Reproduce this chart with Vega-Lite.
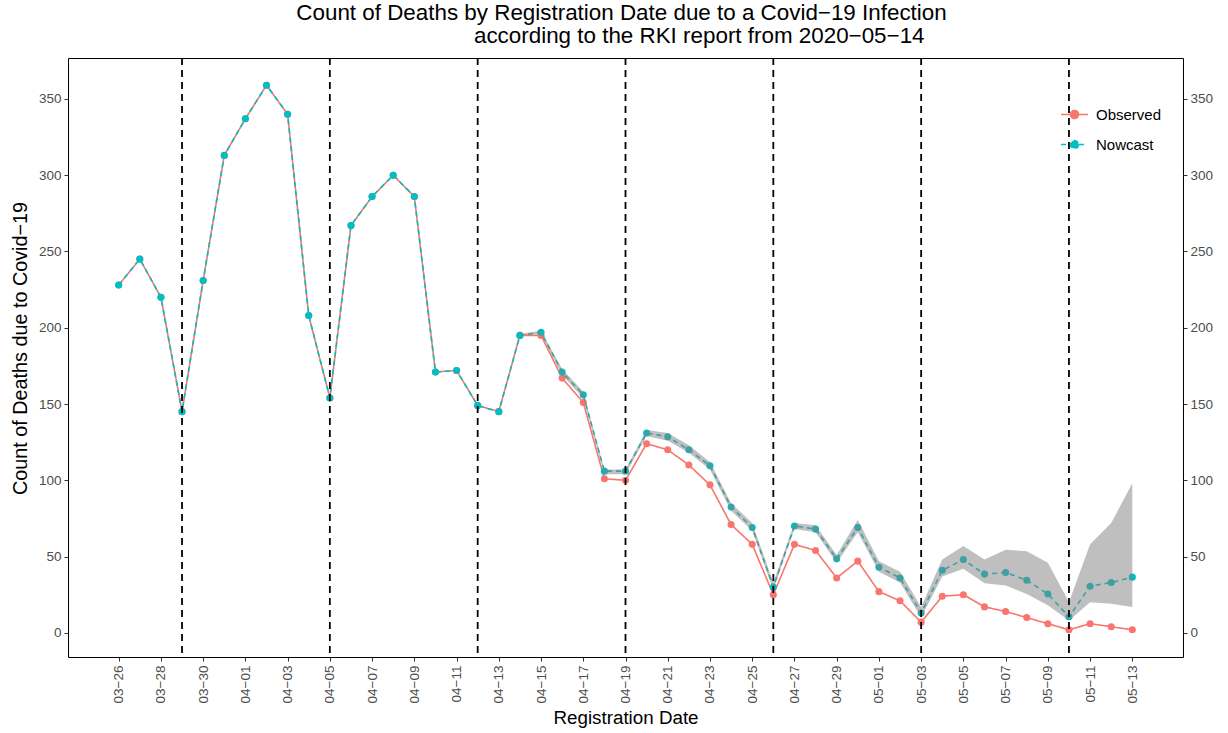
{
  "$schema": "https://vega.github.io/schema/vega-lite/v6.json",
  "width": 1115,
  "height": 599,
  "autosize": {"type": "none"},
  "padding": {"left": 68, "top": 58, "right": 45, "bottom": 76},
  "background": "white",
  "config": {
    "font": "Liberation Sans",
    "view": {"stroke": "#000000", "strokeWidth": 1},
    "axis": {
      "grid": false,
      "domain": false,
      "tickColor": "#333333",
      "tickSize": 4,
      "tickWidth": 1,
      "labelColor": "#4D4D4D",
      "labelFontSize": 13.5,
      "labelFont": "Liberation Sans",
      "titleFont": "Liberation Sans",
      "titleFontSize": 18.8,
      "titleFontWeight": "normal",
      "titleColor": "#000000"
    }
  },
  "title": {
    "text": [
      "Count of Deaths by Registration Date due to a Covid−19 Infection",
      "\u200b\u00a0\u00a0\u00a0\u00a0\u00a0\u00a0\u00a0\u00a0\u00a0\u00a0\u00a0\u00a0\u00a0\u00a0\u00a0\u00a0\u00a0\u00a0\u00a0\u00a0\u00a0\u00a0\u00a0\u00a0\u00a0according to the RKI report from 2020−05−14"
    ],
    "anchor": "middle",
    "dx": -4,
    "fontSize": 22.4,
    "fontWeight": "normal",
    "font": "Liberation Sans",
    "color": "#000000",
    "lineHeight": 23,
    "offset": 10
  },
  "data": {
    "values": [
      {"date": "2020-03-26", "Observed": 228, "Nowcast": 228},
      {"date": "2020-03-27", "Observed": 245, "Nowcast": 245},
      {"date": "2020-03-28", "Observed": 220, "Nowcast": 220},
      {"date": "2020-03-29", "Observed": 145, "Nowcast": 145},
      {"date": "2020-03-30", "Observed": 231, "Nowcast": 231},
      {"date": "2020-03-31", "Observed": 313, "Nowcast": 313},
      {"date": "2020-04-01", "Observed": 337, "Nowcast": 337},
      {"date": "2020-04-02", "Observed": 359, "Nowcast": 359},
      {"date": "2020-04-03", "Observed": 340, "Nowcast": 340},
      {"date": "2020-04-04", "Observed": 208, "Nowcast": 208},
      {"date": "2020-04-05", "Observed": 154, "Nowcast": 154},
      {"date": "2020-04-06", "Observed": 267, "Nowcast": 267},
      {"date": "2020-04-07", "Observed": 286, "Nowcast": 286},
      {"date": "2020-04-08", "Observed": 300, "Nowcast": 300},
      {"date": "2020-04-09", "Observed": 286, "Nowcast": 286},
      {"date": "2020-04-10", "Observed": 171, "Nowcast": 171},
      {"date": "2020-04-11", "Observed": 172, "Nowcast": 172},
      {"date": "2020-04-12", "Observed": 149, "Nowcast": 149},
      {"date": "2020-04-13", "Observed": 145, "Nowcast": 145},
      {"date": "2020-04-14", "Observed": 195, "Nowcast": 195, "lo": 195, "hi": 196},
      {"date": "2020-04-15", "Observed": 195, "Nowcast": 197, "lo": 196, "hi": 198},
      {"date": "2020-04-16", "Observed": 167, "Nowcast": 171, "lo": 169, "hi": 173},
      {"date": "2020-04-17", "Observed": 151, "Nowcast": 156, "lo": 154, "hi": 158},
      {"date": "2020-04-18", "Observed": 101, "Nowcast": 106, "lo": 104, "hi": 107},
      {"date": "2020-04-19", "Observed": 100, "Nowcast": 106, "lo": 104, "hi": 107},
      {"date": "2020-04-20", "Observed": 124, "Nowcast": 131, "lo": 129, "hi": 133},
      {"date": "2020-04-21", "Observed": 120, "Nowcast": 128.5, "lo": 126, "hi": 131},
      {"date": "2020-04-22", "Observed": 110, "Nowcast": 120, "lo": 118, "hi": 123},
      {"date": "2020-04-23", "Observed": 97, "Nowcast": 109.5, "lo": 107, "hi": 112},
      {"date": "2020-04-24", "Observed": 71, "Nowcast": 82.5, "lo": 80, "hi": 85},
      {"date": "2020-04-25", "Observed": 58, "Nowcast": 69, "lo": 67, "hi": 72},
      {"date": "2020-04-26", "Observed": 25, "Nowcast": 30, "lo": 28, "hi": 33},
      {"date": "2020-04-27", "Observed": 58, "Nowcast": 70, "lo": 68, "hi": 72},
      {"date": "2020-04-28", "Observed": 54, "Nowcast": 68, "lo": 66, "hi": 70.5},
      {"date": "2020-04-29", "Observed": 36, "Nowcast": 48.5, "lo": 46, "hi": 51},
      {"date": "2020-04-30", "Observed": 47, "Nowcast": 69, "lo": 66, "hi": 74},
      {"date": "2020-05-01", "Observed": 27, "Nowcast": 43, "lo": 40, "hi": 47},
      {"date": "2020-05-02", "Observed": 21, "Nowcast": 36, "lo": 33, "hi": 40},
      {"date": "2020-05-03", "Observed": 7, "Nowcast": 13, "lo": 10, "hi": 17},
      {"date": "2020-05-04", "Observed": 24, "Nowcast": 41, "lo": 37, "hi": 48},
      {"date": "2020-05-05", "Observed": 25, "Nowcast": 48, "lo": 42, "hi": 57},
      {"date": "2020-05-06", "Observed": 17, "Nowcast": 38.5, "lo": 32.5, "hi": 48},
      {"date": "2020-05-07", "Observed": 14, "Nowcast": 39.5, "lo": 31, "hi": 54.5},
      {"date": "2020-05-08", "Observed": 10, "Nowcast": 34.5, "lo": 25.5, "hi": 53.5},
      {"date": "2020-05-09", "Observed": 6, "Nowcast": 25.5, "lo": 18, "hi": 46},
      {"date": "2020-05-10", "Observed": 2, "Nowcast": 10.5, "lo": 8, "hi": 20},
      {"date": "2020-05-11", "Observed": 6, "Nowcast": 30.5, "lo": 20, "hi": 58},
      {"date": "2020-05-12", "Observed": 4, "Nowcast": 33, "lo": 19, "hi": 72},
      {"date": "2020-05-13", "Observed": 2, "Nowcast": 36.5, "lo": 17, "hi": 98}
    ]
  },
  "resolve": {"axis": {"y": "independent"}},
  "layer": [
    {
      "transform": [{"fold": ["Observed", "Nowcast"], "as": ["series", "count"]}],
      "mark": {"type": "line", "strokeWidth": 1.6},
      "encoding": {
        "x": {
          "field": "date",
          "type": "temporal",
          "title": "Registration Date",
          "scale": {
            "type": "utc",
            "domain": [
              {"year": 2020, "month": 3, "date": 23, "hours": 14, "minutes": 24, "utc": true},
              {"year": 2020, "month": 5, "date": 15, "hours": 9, "minutes": 36, "utc": true}
            ]
          },
          "axis": {
            "format": "%m−%d",
            "formatType": "utc",
            "labelExpr": "utcFormat(datum.value, '%m−%d')",
            "labelAngle": 270,
            "labelAlign": "right",
            "labelBaseline": "middle",
            "labelPadding": 4,
            "titlePadding": 6,
            "values": [
              {"year": 2020, "month": 3, "date": 26, "utc": true},
              {"year": 2020, "month": 3, "date": 28, "utc": true},
              {"year": 2020, "month": 3, "date": 30, "utc": true},
              {"year": 2020, "month": 4, "date": 1, "utc": true},
              {"year": 2020, "month": 4, "date": 3, "utc": true},
              {"year": 2020, "month": 4, "date": 5, "utc": true},
              {"year": 2020, "month": 4, "date": 7, "utc": true},
              {"year": 2020, "month": 4, "date": 9, "utc": true},
              {"year": 2020, "month": 4, "date": 11, "utc": true},
              {"year": 2020, "month": 4, "date": 13, "utc": true},
              {"year": 2020, "month": 4, "date": 15, "utc": true},
              {"year": 2020, "month": 4, "date": 17, "utc": true},
              {"year": 2020, "month": 4, "date": 19, "utc": true},
              {"year": 2020, "month": 4, "date": 21, "utc": true},
              {"year": 2020, "month": 4, "date": 23, "utc": true},
              {"year": 2020, "month": 4, "date": 25, "utc": true},
              {"year": 2020, "month": 4, "date": 27, "utc": true},
              {"year": 2020, "month": 4, "date": 29, "utc": true},
              {"year": 2020, "month": 5, "date": 1, "utc": true},
              {"year": 2020, "month": 5, "date": 3, "utc": true},
              {"year": 2020, "month": 5, "date": 5, "utc": true},
              {"year": 2020, "month": 5, "date": 7, "utc": true},
              {"year": 2020, "month": 5, "date": 9, "utc": true},
              {"year": 2020, "month": 5, "date": 11, "utc": true},
              {"year": 2020, "month": 5, "date": 13, "utc": true}
            ]
          }
        },
        "y": {
          "field": "count",
          "type": "quantitative",
          "title": "Count of Deaths due to Covid−19",
          "scale": {"domain": [-15.85, 376.85], "nice": false, "zero": false},
          "axis": {"orient": "left", "values": [0, 50, 100, 150, 200, 250, 300, 350], "labelPadding": 3, "titlePadding": 8, "titleFontSize": 19.8, "titleY": 290}
        },
        "color": {
          "field": "series",
          "type": "nominal",
          "scale": {"domain": ["Observed", "Nowcast"], "range": ["#F8766D", "#00BFC4"]},
          "legend": {
            "title": null,
            "orient": "none",
            "legendX": 992,
            "legendY": 42,
            "padding": 0,
            "symbolType": "M-1,0L1,0M0.3,0A0.3,0.3,0,1,1,-0.3,0A0.3,0.3,0,1,1,0.3,0Z",
            "symbolSize": 729,
            "symbolStrokeWidth": 1.5,
            "labelFontSize": 15,
            "labelColor": "#000000",
            "labelFont": "Liberation Sans",
            "labelOffset": 7,
            "rowPadding": 7,
            "encode": {"symbols": {"update": {"fill": {"scale": "color", "field": "value"}}}}
          }
        },
        "strokeDash": {
          "field": "series",
          "type": "nominal",
          "scale": {"domain": ["Observed", "Nowcast"], "range": [[1, 0], [5, 4]]},
          "legend": {
            "title": null,
            "orient": "none",
            "legendX": 992,
            "legendY": 42,
            "padding": 0,
            "symbolType": "M-1,0L1,0M0.3,0A0.3,0.3,0,1,1,-0.3,0A0.3,0.3,0,1,1,0.3,0Z",
            "symbolSize": 729,
            "symbolStrokeWidth": 1.5,
            "labelFontSize": 15,
            "labelColor": "#000000",
            "labelFont": "Liberation Sans",
            "labelOffset": 7,
            "rowPadding": 7
          }
        }
      }
    },
    {
      "transform": [{"fold": ["Observed", "Nowcast"], "as": ["series", "count"]}],
      "mark": {"type": "point", "filled": true, "size": 50, "opacity": 1},
      "encoding": {
        "x": {"field": "date", "type": "temporal", "title": "Registration Date"},
        "y": {
          "field": "count",
          "type": "quantitative",
          "title": null,
          "axis": {"orient": "right", "values": [0, 50, 100, 150, 200, 250, 300, 350], "labelPadding": 3}
        },
        "color": {"field": "series", "type": "nominal", "legend": null}
      }
    },
    {
      "mark": {"type": "area", "color": "#7F7F7F", "opacity": 0.5},
      "encoding": {
        "x": {"field": "date", "type": "temporal", "title": "Registration Date"},
        "y": {"field": "lo", "type": "quantitative", "axis": null},
        "y2": {"field": "hi"}
      }
    },
    {
      "data": {
        "values": [
          {"sunday": "2020-03-29"},
          {"sunday": "2020-04-05"},
          {"sunday": "2020-04-12"},
          {"sunday": "2020-04-19"},
          {"sunday": "2020-04-26"},
          {"sunday": "2020-05-03"},
          {"sunday": "2020-05-10"}
        ]
      },
      "mark": {"type": "rule", "color": "#000000", "strokeWidth": 1.8, "strokeDash": [7, 5]},
      "encoding": {
        "x": {"field": "sunday", "type": "temporal", "title": "Registration Date"}
      }
    }
  ]
}
